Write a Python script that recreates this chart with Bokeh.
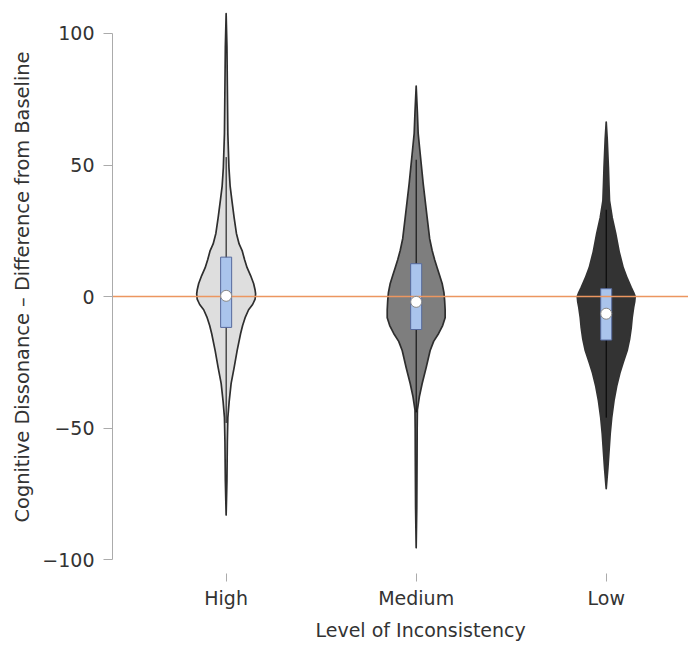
import numpy as np
from bokeh.plotting import figure
from bokeh.models import FixedTicker, Title
from bokeh.embed import file_html
from bokeh.resources import INLINE

# ---- data ----
categories = ["High", "Medium", "Low"]

# violin outlines: value (y) and relative half-width (px at widest ~29.5)
high_y = [107.5, 95, 80, 62, 49, 42, 36.5, 30, 24, 20, 17.5, 14, 11, 8, 5, 2.5, 1, -1, -3, -5, -8, -11, -14, -20.5, -27, -33, -40, -46, -55, -70, -83]
high_w = [0, 0.8, 1.2, 1.7, 2.8, 4, 5.8, 8, 10.3, 13, 16, 18.5, 21, 24.5, 27.5, 29, 29.5, 29, 26.5, 22.5, 19, 16.5, 14.5, 11, 8, 5, 3, 1.7, 1.2, 0.8, 0]

med_y = [80, 70, 62, 55.5, 43, 30, 22, 17.5, 14, 11, 8, 5, 1.5, -1.5, -5, -8, -11, -14, -17, -20.5, -27, -33, -38, -43, -50, -60, -80, -95.4]
med_w = [0, 1.2, 2, 3.7, 7, 11, 13.5, 16, 18.5, 21, 23.5, 26, 27.8, 28.5, 29, 29, 26.5, 22.5, 17.5, 14, 10, 6, 3.2, 1.2, 1, 0.9, 0.6, 0]

low_y = [66.3, 60, 49, 43, 36.5, 30, 24, 17, 11, 7, 3.5, 1.5, 0, -2, -4, -8, -12, -16, -20.5, -25, -29, -34, -39.5, -46, -52, -65, -73]
low_w = [0, 1, 2.2, 2.7, 3.3, 6, 9.5, 13, 17, 21, 25, 27.5, 29, 28.5, 27.5, 26, 25, 23.5, 21, 17, 13.7, 10.5, 7.8, 5.5, 4, 1.7, 0]

q1 = [-11.7, -12.5, -16.5]
q3 = [15, 12.5, 3]
medians = [0.3, -2, -6.5]
whisk_lo = [-48, -44, -46]
whisk_hi = [53, 52, 33]

profiles_y = [high_y, med_y, low_y]
profiles_w = [high_w, med_w, low_w]

fills = ["#dedede", "#7e7e7e", "#333333"]
outlines = ["#2e2e2e", "#2e2e2e", "#333333"]

TEXT = "#333333"
AXIS = "#ababab"
FONT = "DejaVu Sans"

p = figure(width=688, height=645, output_backend="svg", toolbar_location=None,
           x_range=(0.402, 3.433), y_range=(-105.2, 112.5),
           min_border_left=112, min_border_right=0, min_border_top=0, min_border_bottom=0)
p.outline_line_color = None
p.grid.visible = False
p.background_fill_color = "white"

positions = [i + 1 for i in range(len(categories))]
W_SCALE = 0.155 / 29.5   # half-width in x units per unit of relative width

for c, ys, ws, fc, lc in zip(positions, profiles_y, profiles_w, fills, outlines):
    ys = np.array(ys, dtype=float)
    ws = np.array(ws, dtype=float) * W_SCALE
    xs = np.concatenate([c + ws, (c - ws)[::-1]])
    yy = np.concatenate([ys, ys[::-1]])
    p.patch(xs, yy, fill_color=fc, line_color=lc, line_width=1.7, line_join="round")

p.segment(x0=positions, y0=whisk_lo, x1=positions, y1=whisk_hi, line_color="black", line_width=1)

p.quad(left=[c - 0.029 for c in positions], right=[c + 0.029 for c in positions],
       bottom=q1, top=q3, fill_color="#aac4ec", line_color="#56699c", line_width=1)

p.hspan(y=[0], line_color="#ec9660", line_width=1.3)

p.scatter(x=positions, y=medians, size=11, fill_color="white", line_color="#8a8a8a", line_width=1)

# axes
xa = p.xaxis[0]
xa.ticker = FixedTicker(ticks=positions)
xa.major_label_overrides = {c: n for c, n in zip(positions, categories)}
xa.axis_line_color = None
xa.major_tick_line_color = AXIS
xa.major_tick_out = 8
xa.major_tick_in = 0
xa.minor_tick_line_color = None
xa.major_label_text_font = FONT
xa.major_label_text_font_size = "19px"
xa.major_label_text_color = TEXT
xa.major_label_standoff = 5

ya = p.yaxis[0]
ya.ticker = FixedTicker(ticks=[-100, -50, 0, 50, 100])
ya.bounds = (-100, 100)
ya.axis_line_color = AXIS
ya.major_tick_line_color = AXIS
ya.major_tick_out = 9
ya.major_tick_in = 0
ya.minor_tick_line_color = None
ya.major_label_text_font = FONT
ya.major_label_text_font_size = "19px"
ya.major_label_text_color = TEXT
ya.major_label_standoff = 9
ya.axis_label = "Cognitive Dissonance \u2013 Difference from Baseline"
ya.axis_label_text_font = FONT
ya.axis_label_text_font_size = "19.4px"
ya.axis_label_text_font_style = "normal"
ya.axis_label_text_color = TEXT
ya.axis_label_standoff = 5

xtitle = Title(text="Level of Inconsistency", align="left", offset=203,
               text_font=FONT, text_font_size="19px", text_font_style="normal",
               text_color=TEXT, standoff=10)
p.add_layout(xtitle, "below")

open("out.html", "w").write(file_html(p, INLINE))
